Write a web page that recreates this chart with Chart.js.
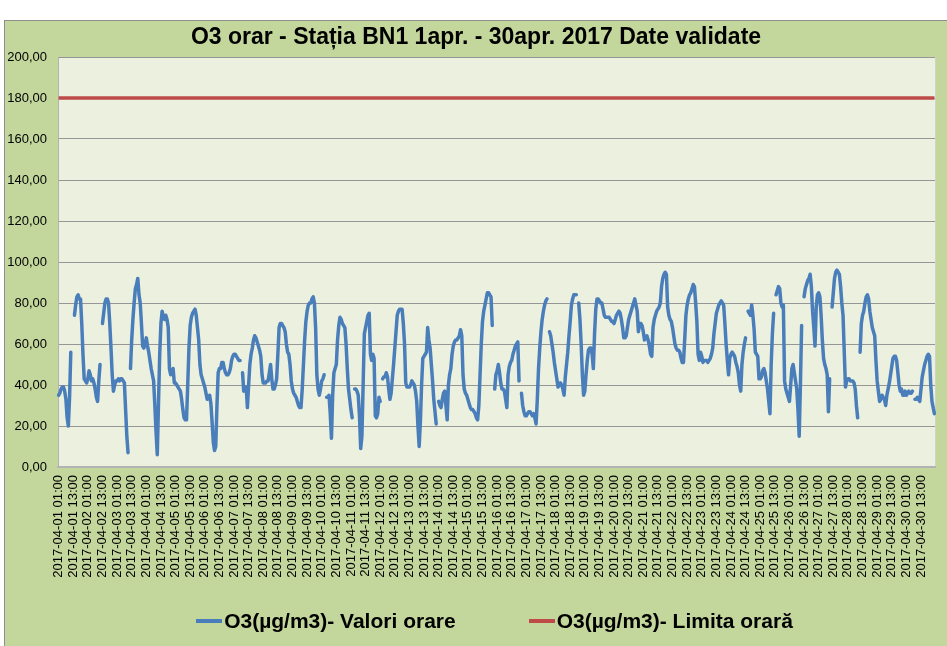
<!DOCTYPE html>
<html>
<head>
<meta charset="utf-8">
<script src="https://cdn.jsdelivr.net/npm/chart.js@4/dist/chart.umd.min.js"></script>
<style>
html,body{margin:0;padding:0;background:#fff;overflow:hidden;width:947px;height:646px}
#frame{position:absolute;left:4px;top:20px;width:960px;height:640px;background:#c3d69b;border:1px solid #8e8e8e;box-sizing:border-box}
#wrap{position:absolute;left:5px;top:21px;width:942px;height:625px}
#legend{position:absolute;left:0;top:609px;width:989px;display:flex;justify-content:center;gap:73px;
  font:bold 21px "Liberation Sans",Arial,sans-serif;line-height:24px;color:#000;white-space:nowrap}
#legend .item{display:flex;align-items:center}
#legend .swatch{display:inline-block;width:26px;height:4px;margin-right:2px}
</style>
</head>
<body>
<div id="frame"></div>
<div id="wrap"><canvas id="c" width="942" height="625"></canvas></div>
<div id="legend"></div>
<script>
// tick labels
const days=['2017-04-01','2017-04-02','2017-04-03','2017-04-04','2017-04-05','2017-04-06','2017-04-07','2017-04-08','2017-04-09','2017-04-10',
  '2017-04-11','2017-04-12','2017-04-13','2017-04-14','2017-04-15','2017-04-16','2017-04-17','2017-04-18','2017-04-19','2017-04-20',
  '2017-04-21','2017-04-22','2017-04-23','2017-04-24','2017-04-25','2017-04-26','2017-04-27','2017-04-28','2017-04-29','2017-04-30'];
const hours=['01:00','02:00','03:00','04:00','05:00','06:00','07:00','08:00','09:00','10:00','11:00','12:00',
  '13:00','14:00','15:00','16:00','17:00','18:00','19:00','20:00','21:00','22:00','23:00','24:00'];

// hourly O3 values (µg/m3), one array per day, null = missing
const d01=[35,36,38,39,39,37,33,24,20,34,56,null,null,74,79,83,84,82,82,70,55,43,42,41];
const d02=[43,47,45,42,43,41,38,34,32,42,50,null,70,75,80,82,82,80,70,58,45,37,40,42];
const d03=[42,43,42,43,43,42,41,28,15,7,null,48,62,72,80,87,89,92,84,80,70,59,58,60];
const d04=[63,59,56,52,48,45,42,30,17,6,31,55,70,76,73,72,74,72,68,48,45,47,48,41];
const d05=[41,40,39,38,37,33,28,24,23,23,40,58,69,73,75,76,77,74,68,62,50,45,43,41];
const d06=[39,36,33,34,35,31,22,12,8,10,30,46,48,48,51,51,48,46,45,45,46,48,52,54];
const d07=[55,55,54,53,52,52,null,46,37,38,39,29,40,50,55,58,62,64,63,61,59,57,54,45];
const d08=[41,41,41,42,42,46,50,43,38,38,40,43,55,68,70,70,69,68,66,60,56,55,50,42];
const d09=[38,36,35,34,32,30,29,29,38,50,62,71,76,79,80,80,82,83,80,68,45,38,35,38];
const d10=[42,43,45,null,34,34,35,26,14,35,46,48,50,62,69,73,72,70,69,68,60,48,38,33];
const d11=[28,24,null,38,38,37,35,25,9,15,40,65,68,71,74,75,55,52,55,53,25,24,26,34];
const d12=[32,null,43,44,44,46,44,38,33,36,43,50,58,66,74,76,77,77,77,70,60,41,39,39];
const d13=[39,40,42,41,40,37,32,20,10,22,40,53,54,55,56,68,62,58,50,42,33,27,21,null];
const d14=[32,30,29,33,36,37,30,23,40,45,48,55,59,61,62,62,63,64,67,64,45,38,36,35];
const d15=[33,31,29,28,28,27,26,24,23,30,45,60,71,76,79,82,85,85,84,83,69,null,38,45];
const d16=[47,50,46,41,38,38,37,33,29,45,49,51,52,55,57,59,60,61,42,null,36,30,27,25];
const d17=[25,26,27,27,26,25,26,24,21,33,48,58,66,72,76,79,81,82,null,66,64,60,56,51];
const d18=[47,43,39,40,41,40,38,35,44,50,56,64,71,79,82,84,84,84,null,80,72,60,45,35];
const d19=[37,45,52,57,58,58,55,48,65,77,82,82,81,80,80,77,74,73,73,73,73,72,71,71];
const d20=[70,72,74,75,76,75,72,68,63,63,64,68,72,74,76,78,80,82,79,76,66,70,70,69];
const d21=[66,62,63,64,62,59,55,54,68,72,74,76,77,78,80,88,92,94,95,94,78,74,72,71];
const d22=[68,64,60,58,57,57,56,53,51,51,62,74,79,82,84,85,87,89,88,80,71,55,52,56];
const d23=[54,51,52,52,52,51,52,53,55,58,65,70,75,77,79,80,81,80,79,70,60,52,45,53];
const d24=[55,56,55,54,51,49,46,40,37,50,56,60,63,null,76,75,74,79,74,67,56,55,54,43];
const d25=[43,44,47,48,46,42,38,32,26,50,65,75,null,84,86,88,87,80,78,79,42,38,36,34];
const d26=[32,40,48,50,46,42,38,28,15,40,69,null,83,87,89,91,92,94,88,76,68,59,78,84];
const d27=[85,83,74,62,53,50,48,45,27,43,null,78,85,92,95,96,95,94,88,80,74,56,39,42];
const d28=[43,43,42,42,42,41,38,30,24,null,56,70,74,76,80,83,84,82,76,72,68,66,64,52];
const d29=[42,37,32,33,35,34,33,30,35,38,41,45,49,53,54,54,52,46,40,37,38,35,35,37];
const d30=[35,36,37,36,36,37,null,33,33,34,33,32,38,44,47,50,52,54,55,54,40,32,29,26];
const LIMIT=180;

const labels=days.flatMap(d=>hours.map(h=>d+' '+h));
const o3=[].concat(d01,d02,d03,d04,d05,d06,d07,d08,d09,d10,d11,d12,d13,d14,d15,d16,d17,d18,d19,d20,d21,d22,d23,d24,d25,d26,d27,d28,d29,d30);
const limit=labels.map(()=>LIMIT);

const FONT='"Liberation Sans", Arial, sans-serif';

// plot area fill + light right edge
const plotBg={id:'plotBg',
  afterLayout(c){ if(c.titleBlock){ c.titleBlock.left+=12; } },
  beforeDraw(c){const {ctx,chartArea:a}=c; ctx.save();
    ctx.fillStyle='#ebf1de'; ctx.fillRect(a.left,a.top,a.width,a.height);
    ctx.strokeStyle='#d0d4c8'; ctx.lineWidth=1; ctx.beginPath(); ctx.moveTo(a.right+0.5,a.top); ctx.lineTo(a.right+0.5,a.bottom); ctx.stroke();
    ctx.restore();}};

// html legend built from the datasets
const htmlLegend={id:'htmlLegend',afterUpdate(c){
  const box=document.getElementById('legend'); box.innerHTML='';
  c.data.datasets.forEach(ds=>{
    const it=document.createElement('span'); it.className='item';
    const sw=document.createElement('span'); sw.className='swatch'; sw.style.background=ds.borderColor;
    it.appendChild(sw); it.appendChild(document.createTextNode(ds.label)); box.appendChild(it);
  });
}};

new Chart(document.getElementById('c'),{
  type:'line',
  data:{labels,datasets:[
    {label:'O3(µg/m3)- Valori orare',data:o3,borderColor:'#4a7ebb',backgroundColor:'#4a7ebb',borderWidth:3.5,pointRadius:0,tension:0,spanGaps:false,borderCapStyle:'round',borderJoinStyle:'round'},
    {label:'O3(µg/m3)- Limita orară',data:limit,borderColor:'#be4b48',backgroundColor:'#be4b48',borderWidth:3.5,pointRadius:0,tension:0}
  ]},
  options:{
    responsive:false,animation:false,events:[],
    layout:{padding:{left:0,right:12,top:0,bottom:0}},
    plugins:{
      title:{display:true,text:'O3 orar - Stația BN1 1apr. - 30apr. 2017 Date validate',color:'#000',font:{family:FONT,size:23,weight:'bold'},padding:{top:3.2,bottom:5.2}},
      legend:{display:false},
      tooltip:{enabled:false}
    },
    scales:{
      x:{offset:true,grid:{display:false,drawTicks:false},border:{color:'#b3b3b3',width:2},
        ticks:{autoSkip:false,minRotation:90,maxRotation:90,padding:8,color:'#000',font:{family:FONT,size:13},
          callback:(v,i)=>i%12===0?labels[i]:null},
        afterFit:s=>{s.height=179}},
      y:{min:0,max:200,grid:{drawTicks:false,color:ctx=>ctx.tick&&ctx.tick.value===0?'rgba(0,0,0,0)':'#969696'},border:{color:'#b3b3b3',width:1},
        ticks:{stepSize:20,padding:11,color:'#000',font:{family:FONT,size:13},callback:v=>v.toFixed(2).replace('.',',')},
        afterFit:s=>{s.width=53}}
    }
  },
  plugins:[plotBg,htmlLegend]
});
</script>
</body>
</html>
